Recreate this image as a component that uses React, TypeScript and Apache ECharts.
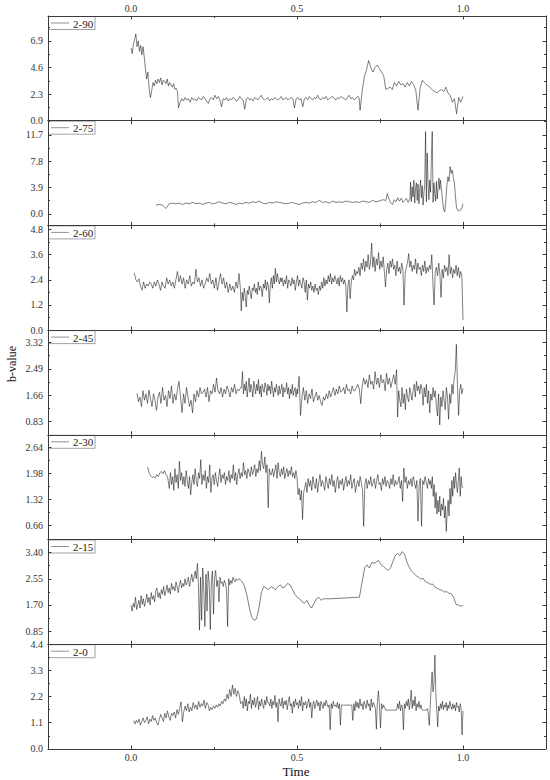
import React, { useEffect, useRef } from 'react';
import * as echarts from 'echarts';

// ---------- labels / axes ----------
const panelNames = ['2-90', '2-75', '2-60', '2-45', '2-30', '2-15', '2-0'];
const xMin = -0.25;
const xMax = 1.25;
const xTicks = [0, 0.5, 1.0];
const xMinorTicks = [0.25, 0.75];
const yMins = [0, -1.7, 0, 0.41, 0.305, 0.425, 0];
const yMaxs = [9.05, 13.8, 5.0, 3.71, 2.96, 3.825, 4.4];
const yTicks = [
  [0, 2.3, 4.6, 6.9],
  [0, 3.9, 7.8, 11.7],
  [0, 1.2, 2.4, 3.6, 4.8],
  [0.83, 1.66, 2.49, 3.32],
  [0.66, 1.32, 1.98, 2.64],
  [0.85, 1.7, 2.55, 3.4],
  [0, 1.1, 2.2, 3.3, 4.4],
];
const yMinorTicks = [
  [1.15, 3.45, 5.75, 8.05],
  [1.95, 5.85, 9.75, 13.65],
  [0.6, 1.8, 3.0, 4.2],
  [1.245, 2.075, 2.905],
  [0.99, 1.65, 2.31],
  [1.275, 2.125, 2.975],
  [0.55, 1.65, 2.75, 3.85],
];
const yDecimals = [1, 1, 1, 2, 2, 2, 1];
const xTitle = 'Time';
const yTitle = 'b-value';

// ---------- data: values sampled evenly within [tStart, tEnd] ----------
// 2-90
const v90a = [6.3, 5.8, 6.6, 7.0, 7.5, 6.4, 6.9, 6.0, 6.5, 5.7, 6.4, 5.5];
const v90b = [4.6, 3.6, 4.2, 2.8, 2.0, 2.6, 3.3, 3.0, 3.5, 3.2, 3.6, 3.3, 3.7, 3.1, 3.5, 3.4, 3.2, 3.6, 3.0, 3.3, 3.1, 2.9, 3.2, 2.7, 2.8, 2.5];
const v90c = [1.1, 1.6, 1.9, 1.7, 2.0, 1.8, 1.9, 1.6, 2.0, 1.8, 1.9, 1.7, 2.0, 1.9, 1.8, 2.1, 1.9, 1.7, 1.5, 1.9, 2.0, 1.8, 2.2, 1.9, 2.1, 1.8, 1.2, 1.9, 1.8, 2.0, 1.7, 1.9, 1.8, 2.0, 1.9, 1.7, 1.8, 2.1, 1.9, 1.8, 1.0, 1.9, 2.0, 1.8, 1.9, 1.7, 2.0, 1.9, 1.8, 2.0, 2.2, 1.9, 1.8, 1.9, 2.0, 1.7, 1.9, 1.8, 2.0, 1.9, 1.8, 1.9, 2.1, 1.8, 1.9, 2.0, 1.8, 1.9, 2.0, 1.9, 1.1, 1.9, 2.0, 1.8, 1.9, 1.2, 1.9, 2.0, 1.8, 2.1, 1.9, 1.8, 2.0, 1.9, 2.2, 1.9, 1.8, 2.0, 1.9, 2.1, 1.8, 1.9, 2.0, 2.1, 1.9, 1.8, 2.0, 1.9, 2.1, 2.0, 1.9, 1.8, 2.0, 2.2, 1.9, 2.0, 1.8, 1.9, 2.1, 2.0];
const v90d = [0.9, 2.6, 3.8, 4.4, 5.2, 4.6, 4.2, 4.6, 4.8, 4.5, 4.2, 3.9, 2.7, 2.8, 2.9, 2.7, 3.3, 3.0, 3.4, 3.1, 3.2, 2.9, 3.3, 3.0, 3.4, 3.1, 2.6, 0.9, 2.8, 3.5, 3.3, 3.1, 3.0, 2.8, 2.6, 2.5, 2.4, 2.6, 2.7, 2.5, 2.9, 2.4, 2.2, 1.6, 1.9, 0.6, 2.0, 1.6, 2.1];
// 2-75
const v75a = [1.3, 1.4, 1.3, 0.8, 1.5, 1.6, 1.5, 1.6, 1.4, 1.6, 1.5, 1.7, 1.5, 1.6, 1.4, 1.6, 1.7, 1.5, 1.6, 1.8, 1.6, 1.5, 1.7, 1.6, 1.4, 1.6, 1.5, 1.7, 1.6, 1.8, 1.7, 1.9, 1.6, 1.5, 1.7, 1.6, 1.8, 1.7, 1.6, 1.5, 1.6, 1.7, 1.5, 1.4, 1.6, 1.7, 1.6, 1.8, 1.7, 2.0, 1.7, 1.8, 1.6, 1.9, 1.7, 1.8, 1.7, 1.9, 1.8, 1.7, 1.8, 1.7, 1.9, 1.8, 1.7, 2.0, 1.8, 1.9, 2.1, 2.0];
const v75b = [3.0, 2.2, 1.6, 1.4, 2.1, 1.8, 2.4, 1.9, 2.3, 1.7, 2.0, 2.3, 1.7, 2.2];
const v75c = [4.7, 1.8, 4.0, 2.5, 5.0, 1.6, 3.8, 4.6, 2.0, 4.4, 1.5, 3.6, 5.0, 2.4, 4.2, 1.3, 3.0, 4.4, 12.2, 1.8, 9.0, 4.5, 2.1, 5.0, 3.2, 8.5, 12.2, 1.7, 4.6, 3.0, 1.9, 4.8, 2.2, 4.0, 5.3, 3.6];
const v75d = [5.0, 3.6, 2.0, 0.6, 0.3, 1.8, 4.2, 5.5, 4.8, 7.0, 6.0, 6.5, 5.4, 4.6, 2.5, 0.9, 0.55, 0.5, 0.5, 0.6, 0.9, 1.5];
// 2-60
const v60a = [2.73, 2.4, 2.3, 2.45, 2.1, 1.9, 2.3, 2.0, 2.2, 2.1, 2.3, 2.2, 2.0, 2.3, 2.1, 2.4, 2.2, 1.9, 2.3, 2.1, 2.0, 2.5, 2.2, 2.4, 2.1, 2.3, 2.0, 2.4, 2.8, 2.3, 2.6, 2.2, 2.5, 2.0, 2.4, 2.2, 2.6, 2.1, 2.3, 2.2, 2.9, 2.3, 2.5, 2.1, 2.4, 2.0, 2.2, 2.5, 2.3, 2.7, 2.2, 2.4, 2.0, 2.5, 1.9, 2.3, 2.7, 2.2, 2.5, 2.0, 2.3, 1.8, 2.2, 1.9, 2.1, 1.8, 2.3, 2.0, 2.7, 1.9];
const v60b = [0.92, 1.8, 1.4, 2.0, 1.6, 1.1, 1.9, 1.7, 2.1, 1.8, 1.5, 2.0, 1.9, 2.2, 1.8, 2.0, 1.7, 2.3, 1.9, 2.1, 2.0, 1.6, 2.2, 2.0, 2.4, 1.9, 2.3, 2.1, 1.3, 2.2, 2.5, 2.0, 2.6, 2.2, 2.95, 2.3, 2.7, 2.4, 2.2, 2.5];
const v60c = [2.3, 2.5, 2.1, 2.4, 2.2, 2.6, 2.0, 2.4, 2.3, 2.1, 2.5, 2.2, 2.4, 1.9, 2.3, 2.6, 2.1, 2.4, 2.2, 2.0, 2.5, 2.3, 1.8, 2.4, 1.43, 2.2, 2.0, 2.3, 1.9, 2.1, 1.8, 2.2, 1.9, 2.0, 1.7, 2.1, 1.9, 2.3, 2.0, 2.5, 2.1, 2.4, 2.2, 2.6, 2.3, 2.7, 2.2, 2.5, 2.3, 2.6, 2.4, 2.2, 2.5, 2.1, 2.6, 2.3, 2.5, 2.2, 2.4, 2.1, 0.87, 2.2, 2.4, 1.5, 2.3, 2.6, 2.4, 2.9, 2.6, 2.8];
const v60d = [2.7, 3.0, 2.6, 3.2, 2.9, 3.4, 2.8, 3.3, 3.0, 3.6, 2.9, 3.2, 4.15, 3.0, 3.5, 2.8, 3.4, 3.1, 3.7, 2.9, 3.3, 3.0, 3.5, 2.8, 2.06, 2.9, 3.2, 2.7, 3.3, 3.0, 3.4, 2.9, 3.1, 2.6, 3.3, 2.8, 3.0, 2.7, 3.2, 2.9, 1.19, 2.7, 3.0, 3.2, 3.65, 3.0, 3.3, 2.8, 3.1, 2.9, 3.4, 2.7, 3.2, 2.9, 3.0, 2.6, 3.1, 2.8, 3.3, 2.7, 3.0, 2.8, 3.1, 2.9, 3.6, 2.2, 1.2, 2.8, 3.0, 2.6, 3.2, 2.7, 1.56, 2.9, 2.5, 3.1, 2.8, 3.0, 2.6, 3.6, 2.7, 3.0, 2.5, 2.9, 2.7, 3.1, 2.6, 3.0, 2.5, 2.8, 2.6, 0.48];
// 2-45
const v45a = [1.72, 1.45, 1.6, 1.3, 1.8, 1.5, 1.7, 1.4, 1.82, 1.55, 1.3, 1.7, 1.5, 1.18, 1.6, 1.75, 1.4, 1.9, 1.5, 1.65, 1.3, 1.8, 1.55, 1.95, 1.4, 1.7, 1.5, 1.85, 2.09, 1.6, 1.11, 1.7, 1.4, 1.9, 1.6, 1.3, 1.5, 1.1, 1.7, 1.45, 1.8, 1.6, 1.9, 1.7, 1.75, 1.85, 1.6, 1.9, 1.45, 1.8, 1.7, 2.0, 1.75, 2.2, 1.8, 1.7, 1.9, 1.6, 1.85, 1.7, 1.95, 1.8, 1.6, 1.9, 1.75, 2.0, 1.7, 1.85, 1.8, 1.9];
const v45b = [1.9, 2.4, 1.7, 2.0, 1.8, 2.1, 1.6, 1.9, 2.2, 1.75, 2.0, 1.85, 1.6, 2.1, 1.9, 1.7, 2.0, 1.8, 2.15, 1.7, 1.95, 1.6, 2.0, 1.85, 1.75, 2.05, 1.9, 1.65, 2.0, 1.8, 1.95, 1.7, 2.1, 1.85, 1.6, 1.9, 1.75, 2.0, 1.8, 1.65, 1.95, 1.7, 1.85, 2.0, 1.6, 1.9, 1.75, 1.8, 2.05, 1.7, 1.9, 1.55, 1.85, 1.7, 2.0, 1.65, 1.8, 1.9, 1.6, 1.85];
const v45c = [1.7, 2.25, 1.02, 1.6, 1.9, 1.5, 1.8, 1.4, 1.7, 1.55, 1.85, 1.45, 1.6, 1.75, 1.5, 1.65, 1.45, 1.34, 1.6, 1.5, 1.7, 1.55, 1.8, 1.6, 1.75, 1.9, 1.65, 1.85, 1.7, 1.95, 1.75, 1.8, 1.9, 1.7, 2.0, 1.8, 1.85, 1.7, 1.95, 1.8, 1.8, 1.9, 2.0, 1.85, 1.39, 1.95, 2.2, 2.0, 2.15, 1.9, 2.3, 2.0, 2.1, 1.85, 2.4, 2.0, 2.2, 1.9, 2.3, 2.05, 2.15, 1.8, 2.35, 2.0, 2.2, 1.9, 2.1, 2.3, 2.0, 2.46];
const v45d = [0.97, 1.8, 1.5, 1.29, 1.9, 1.4, 1.7, 1.2, 1.85, 1.6, 1.45, 1.9, 1.7, 1.5, 1.8, 2.0, 1.6, 2.09, 1.8, 1.95, 1.7, 2.0, 1.85, 1.34, 1.9, 1.6, 2.0, 1.4, 1.8, 1.1, 1.7, 1.5, 1.9, 1.6, 1.8, 1.3, 1.0, 1.7, 0.72, 1.6, 1.3, 1.8, 1.5, 1.2, 1.9, 1.6, 0.9, 1.7, 1.4, 2.0, 1.7, 2.2, 2.4, 3.26, 2.0, 1.02, 1.8, 2.0, 1.7, 1.875];
// 2-30
const v30a = [2.14, 2.0, 1.92, 1.88, 1.9, 1.86, 1.95, 1.9, 2.0, 2.03, 1.97, 2.05, 1.95, 1.9];
const v30b = [1.8, 1.6, 2.0, 1.7, 1.9, 1.55, 2.1, 1.75, 1.95, 1.6, 2.29, 1.8, 2.0, 1.7, 1.9, 1.65, 2.05, 1.8, 1.6, 1.9, 1.44, 1.75, 1.95, 1.7, 2.1, 1.8, 1.65, 2.0, 1.85, 2.33, 1.7, 1.95, 1.8, 2.05, 1.6, 1.9, 1.75, 2.2, 1.5, 1.85, 1.95, 1.7, 2.0, 1.8, 1.65, 1.9, 2.1, 1.75, 1.95, 1.85, 2.0, 1.7, 1.9, 1.8, 2.05, 1.75, 1.95, 1.85, 2.2, 1.8, 2.0, 1.7, 1.95, 2.1, 1.85, 2.0, 1.9, 2.25, 1.95, 2.05, 1.85, 2.1, 2.0, 1.9, 2.15, 1.95, 2.05, 2.2, 1.9, 2.1, 2.0, 2.3, 2.05, 2.54, 2.2, 2.1, 2.4, 2.0, 2.2, 1.11, 2.1, 1.95];
const v30c = [1.95, 2.1, 1.9, 2.05, 2.2, 1.85, 2.25, 2.0, 1.9, 2.1, 1.95, 2.15, 1.85, 2.0, 2.1, 1.9, 2.05, 1.95, 2.15, 1.9, 2.0, 1.85, 2.05, 1.9, 1.44, 1.6, 1.3, 1.55, 0.81, 1.5];
const v30d = [1.6, 1.75, 1.5, 1.85, 1.65, 1.8, 1.55, 1.9, 1.7, 1.6, 1.85, 1.5, 1.75, 1.95, 1.65, 1.8, 1.7, 1.55, 1.9, 1.75, 1.6, 1.85, 1.7, 1.95, 1.65, 1.8, 1.5, 1.75, 1.9, 1.6, 1.8, 1.7, 1.85, 1.55, 1.75, 1.9, 1.65, 1.8, 1.7, 1.95, 1.6, 1.75, 1.85, 1.5, 1.7, 1.8, 1.65, 1.9, 1.75, 1.55, 0.64, 1.7, 1.85, 1.6, 1.8, 1.7, 1.9, 1.65, 1.75, 1.85, 1.6, 1.8, 1.95, 1.7, 1.75, 1.55, 1.85, 1.7, 1.9, 1.65, 1.8, 1.75, 1.6, 1.85, 1.7, 1.95, 1.65, 1.8, 1.7, 1.75, 1.9, 1.6, 1.8, 1.27, 2.12, 1.75, 1.9, 1.6, 1.8, 1.7, 1.85, 1.65, 1.9, 1.75, 1.6, 1.8, 0.77, 1.7, 1.85, 0.64, 1.8, 1.7, 1.9, 1.75, 1.6, 1.85, 1.7];
const v30e = [1.8, 1.6, 1.9, 1.4, 1.7, 1.1, 1.5, 0.95, 1.3, 1.0, 1.4, 0.9, 1.2, 1.05, 1.35, 0.85, 1.15, 0.51, 1.0, 1.3, 0.9, 1.6, 1.2, 1.8, 1.4, 1.9, 1.6, 2.0, 1.7, 1.5, 1.8, 2.12, 1.4, 1.9, 1.65, 1.61];
// 2-15
const v15a = [1.69, 1.5, 1.75, 1.62, 1.95, 1.55, 1.7, 1.85, 1.6, 2.0, 1.72, 1.9, 1.65, 1.82, 2.05, 1.78, 1.95, 1.7, 2.1, 1.88, 2.0, 1.8, 2.15, 2.25, 1.95, 2.1, 1.9, 2.2, 2.05, 2.3, 2.0, 2.15, 2.35, 2.1, 2.25, 2.05, 2.4, 2.2, 2.3, 2.15, 2.45, 2.28, 2.1, 2.35, 2.5, 2.25, 2.4, 2.3, 2.55, 2.35, 2.45, 2.6, 2.3, 2.5, 2.7, 2.45, 2.6, 2.8, 2.55, 3.05];
const v15b = [2.4, 0.88, 2.6, 1.2, 2.9, 2.2, 1.0, 2.7, 1.5, 2.8, 2.4, 0.9, 2.5, 2.8, 1.4, 2.6, 2.82, 2.3, 2.5, 1.8, 2.6, 2.4, 2.45, 2.3, 2.5, 2.4, 2.2, 1.0, 2.55, 2.35, 2.5, 2.4, 2.6, 2.5, 2.45, 2.55, 2.5, 2.52, 2.55, 2.5];
const v15c = [2.45, 2.3, 2.0, 1.6, 1.3, 1.2, 1.25, 1.6, 2.1, 2.3, 2.25, 2.2, 2.3, 2.25, 2.2, 2.3, 2.35, 2.25, 2.3, 2.4, 2.35, 2.2, 2.05, 1.95, 1.9, 1.8, 1.75, 1.85, 1.7, 1.6, 1.75, 1.9, 1.95, 1.85, 1.9];
const v15d = [1.9, 1.95];
const v15e = [1.95, 2.5, 2.92, 3.0, 2.9, 3.08, 3.05, 3.1, 3.14, 3.0, 2.95, 2.88, 2.82, 2.9, 3.1, 3.3, 3.37, 3.3, 3.43, 3.35, 3.1, 2.92, 2.8, 2.72, 2.65, 2.6, 2.54, 2.56, 2.45, 2.42, 2.37, 2.38, 2.28, 2.24, 2.2, 2.18, 2.12, 2.13, 2.08, 2.06, 1.95, 1.72, 1.7, 1.66, 1.69];
// 2-0
const v0a = [1.19, 1.05, 1.2, 1.1, 1.25, 1.0, 1.15, 1.3, 1.1, 1.2, 1.35, 1.05, 1.25, 1.15, 1.4, 1.2, 1.3, 1.1, 1.0, 1.25, 1.45, 1.3, 1.15, 1.5, 1.3, 1.6, 1.35, 1.2, 1.5, 1.4, 1.55, 1.3, 1.65, 1.45, 1.7, 1.98, 1.14, 1.55, 1.8, 1.6, 1.9, 1.55, 1.75, 1.6, 1.95, 1.7, 1.85, 1.65, 2.0, 1.75, 1.9, 1.8, 2.05, 1.7, 1.95, 1.85, 1.6, 1.75, 1.65, 1.8, 1.7, 1.85, 1.75, 1.9, 1.8, 2.0, 1.9, 2.1, 2.0, 2.3, 2.1, 2.5, 2.2, 2.68, 2.3, 2.55, 2.2, 2.45, 2.3, 1.9];
const v0b = [2.0, 1.7, 2.2, 1.8, 2.1, 1.6, 2.0, 1.9, 2.3, 1.7, 2.05, 1.85, 2.15, 1.75, 1.95, 2.2, 1.65, 2.0, 1.8, 2.1, 1.9, 1.7, 2.05, 1.85, 2.2, 1.95, 1.95, 1.8, 2.1, 1.7, 2.0, 1.85, 2.25, 1.75, 1.95, 1.14, 2.1, 1.9, 1.8, 2.15, 1.7, 2.0, 1.85, 2.05, 1.65, 1.95, 2.2, 1.8, 1.9, 1.5, 2.0, 1.75, 2.1, 1.85, 1.95, 1.7, 2.05, 1.8, 2.2, 1.6, 1.95, 1.85, 2.0, 1.7, 1.9, 2.1, 1.75, 1.95, 1.3, 1.85, 2.0, 1.7, 1.9, 2.05, 1.8, 1.95, 1.6, 2.0, 1.85, 1.7, 1.95, 1.8, 2.05, 1.9, 1.75, 1.85, 0.8, 1.9, 1.7, 2.0, 1.8, 1.85, 1.75, 1.95, 1.7, 1.9, 1.0, 1.85, 1.84, 1.84];
const v0c = [1.84, 1.2, 1.9, 1.6, 2.0, 1.75, 1.95, 1.7, 2.1, 1.8, 1.9, 1.65, 2.0, 1.85, 1.7, 2.05, 1.8, 1.9, 1.6, 2.1, 1.75, 1.95, 1.85, 1.7, 0.83, 2.0, 2.44, 1.8, 0.88, 1.9, 1.7, 1.85, 1.75, 1.63, 1.63];
const v0d = [1.63, 1.9, 1.7, 2.0, 1.6, 1.85, 1.75, 0.8, 1.9, 1.7, 2.0, 1.8, 2.1, 1.65, 1.95, 2.47, 1.7, 2.05, 1.8, 2.2, 1.6, 1.9, 1.75, 2.0, 1.7, 1.85, 1.65, 1.63, 1.63, 1.63];
const v0e = [1.63, 1.7, 1.5, 0.99, 1.8, 2.6, 3.24, 2.4, 2.75, 3.94, 2.3, 1.6, 0.93, 1.8, 1.6, 1.9, 1.7, 2.0, 1.65, 1.85, 1.75, 1.95, 1.6, 1.85, 1.7, 2.0, 1.8, 1.65, 1.9, 1.7, 1.85, 1.6, 1.95, 1.75, 1.8, 1.55, 1.9, 1.7, 0.59, 1.6];

// segments per panel: [tStart, tEnd, values]
type Seg = [number, number, number[]];
const segs90: Seg[] = [[0.0, 0.04, v90a], [0.043, 0.14, v90b], [0.143, 0.687, v90c], [0.69, 1.0, v90d]];
const segs75: Seg[] = [[0.075, 0.768, v75a], [0.772, 0.84, v75b], [0.842, 0.93, v75c], [0.932, 1.0, v75d]];
const segs60: Seg[] = [[0.01, 0.33, v60a], [0.332, 0.45, v60b], [0.452, 0.68, v60c], [0.683, 1.0, v60d]];
const segs45: Seg[] = [[0.018, 0.33, v45a], [0.333, 0.5, v45b], [0.502, 0.8, v45c], [0.803, 1.0, v45d]];
const segs30: Seg[] = [[0.05, 0.11, v30a], [0.112, 0.42, v30b], [0.423, 0.52, v30c], [0.523, 0.9, v30d], [0.902, 1.0, v30e]];
const segs15: Seg[] = [[0.0, 0.2, v15a], [0.203, 0.33, v15b], [0.335, 0.58, v15c], [0.6, 0.688, v15d], [0.69, 1.0, v15e]];
const segs0: Seg[] = [[0.008, 0.33, v0a], [0.335, 0.64, v0b], [0.665, 0.77, v0c], [0.8, 0.885, v0d], [0.89, 1.0, v0e]];
const panelSegs = [segs90, segs75, segs60, segs45, segs30, segs15, segs0];

function buildSeries(segs: Seg[]): [number, number][] {
  const out: [number, number][] = [];
  for (const [t0, t1, vals] of segs) {
    const n = vals.length;
    vals.forEach((v, i) => {
      out.push([n === 1 ? t0 : t0 + ((t1 - t0) * i) / (n - 1), v]);
    });
  }
  return out;
}

const GRID_LEFT = 48;
const GRID_RIGHT = 4;
const GRID_TOP = 16;
const PANEL_H = 104.7;
const FONT = 'Liberation Serif';
const AXIS_COLOR = '#3a3a3a';

export default function App() {
  const ref = useRef<HTMLDivElement>(null);
  useEffect(() => {
    document.body.style.margin = '0';
    if (!ref.current) return;
    const chart = echarts.init(ref.current, null, { renderer: 'svg' });
    const grids: any[] = [];
    const xAxes: any[] = [];
    const yAxes: any[] = [];
    const series: any[] = [];
    const graphics: any[] = [];
    const lineStyle = { color: AXIS_COLOR, width: 1 };
    const labelBase = { fontFamily: FONT, fontSize: 10, color: '#333' };

    panelNames.forEach((name, i) => {
      const top = GRID_TOP + i * PANEL_H;
      grids.push({ left: GRID_LEFT, right: GRID_RIGHT, top, height: PANEL_H, containLabel: false });
      const xb = { type: 'value', gridIndex: i, min: xMin, max: xMax, splitLine: { show: false } };
      const fmtX = (v: number) => v.toFixed(1);
      xAxes.push({
        ...xb, position: 'bottom',
        axisLine: { show: true, onZero: false, lineStyle },
        axisTick: { show: true, inside: true, length: 3.5, customValues: xTicks, lineStyle },
        axisLabel: { show: i === panelNames.length - 1, customValues: xTicks, formatter: fmtX, margin: 4, ...labelBase },
      });
      xAxes.push({
        ...xb, position: 'top',
        axisLine: { show: true, onZero: false, lineStyle },
        axisTick: { show: true, inside: true, length: 3.5, customValues: xTicks, lineStyle },
        axisLabel: { show: i === 0, customValues: xTicks, formatter: fmtX, margin: 3, ...labelBase },
      });
      ['bottom', 'top'].forEach((pos) => {
        xAxes.push({
          ...xb, position: pos,
          axisLine: { show: false, onZero: false },
          axisTick: { show: true, inside: true, length: 2, customValues: xMinorTicks, lineStyle },
          axisLabel: { show: false },
        });
      });
      const yb = { type: 'value', gridIndex: i, min: yMins[i], max: yMaxs[i], splitLine: { show: false } };
      const dec = yDecimals[i];
      yAxes.push({
        ...yb, position: 'left',
        axisLine: { show: true, onZero: false, lineStyle },
        axisTick: { show: true, inside: true, length: 3.5, customValues: yTicks[i], lineStyle },
        axisLabel: { show: true, customValues: yTicks[i], formatter: (v: number) => v.toFixed(dec), margin: 5, ...labelBase },
      });
      yAxes.push({
        ...yb, position: 'right',
        axisLine: { show: true, onZero: false, lineStyle },
        axisTick: { show: true, inside: true, length: 3.5, customValues: yTicks[i], lineStyle },
        axisLabel: { show: false },
      });
      ['left', 'right'].forEach((pos) => {
        yAxes.push({
          ...yb, position: pos,
          axisLine: { show: false, onZero: false },
          axisTick: { show: true, inside: true, length: 2, customValues: yMinorTicks[i], lineStyle },
          axisLabel: { show: false },
        });
      });

      series.push({
        type: 'line',
        name,
        xAxisIndex: i * 4,
        yAxisIndex: i * 4,
        data: buildSeries(panelSegs[i]),
        showSymbol: false,
        symbol: 'none',
        clip: true,
        lineStyle: { color: '#000', width: 0.5 },
      });

      graphics.push({
        type: 'group',
        x: GRID_LEFT,
        y: top,
        z: 100,
        children: [
          { type: 'rect', shape: { x: 0.5, y: 0.5, width: 46.5, height: 13 }, style: { fill: '#fff', stroke: '#8a8a8a', lineWidth: 0.8 } },
          { type: 'line', shape: { x1: 3, y1: 7, x2: 21, y2: 7 }, style: { stroke: '#777', lineWidth: 0.8 } },
          { type: 'text', x: 25, y: 7.5, style: { text: name, fontFamily: FONT, fontSize: 11, fill: '#222', verticalAlign: 'middle', align: 'left' } },
        ],
      });
    });

    graphics.push({
      type: 'text', x: 296, y: 771, z: 100,
      style: { text: xTitle, fontFamily: FONT, fontSize: 13, fill: '#111', align: 'center', verticalAlign: 'middle' },
    });
    graphics.push({
      type: 'text', x: 12, y: 364, rotation: Math.PI / 2, z: 100,
      style: { text: yTitle, fontFamily: FONT, fontSize: 12, fill: '#111', align: 'center', verticalAlign: 'middle' },
    });

    chart.setOption({
      animation: false,
      backgroundColor: '#fff',
      grid: grids,
      xAxis: xAxes,
      yAxis: yAxes,
      series,
      graphic: graphics,
    });
    return () => chart.dispose();
  }, []);
  return <div ref={ref} style={{ width: 550, height: 780 }} />;
}
